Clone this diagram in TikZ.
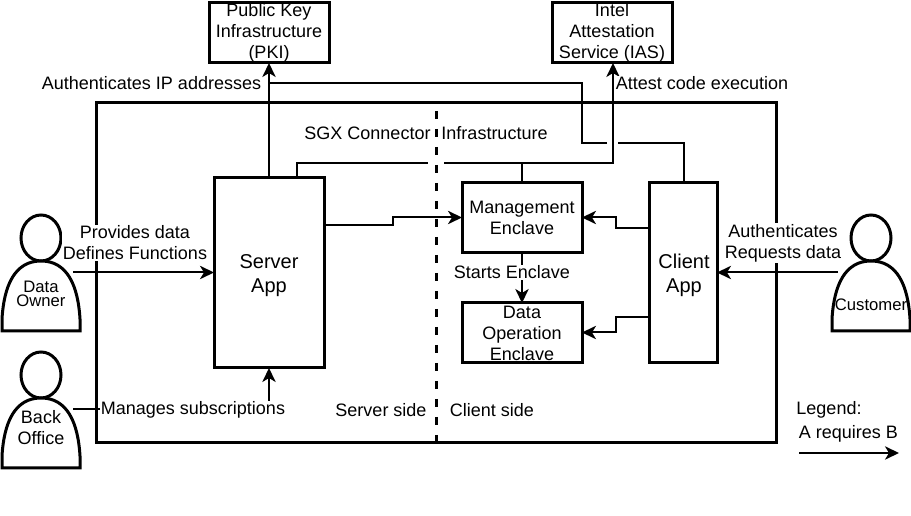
\documentclass[tikz,border=0pt]{standalone}
\usepackage{fontspec}
\setmainfont{Liberation Sans}
\usetikzlibrary{arrows.meta}
\definecolor{ink}{HTML}{000000}
\tikzset{
  x=0.75pt,y=-0.75pt,
  box/.style={draw=ink,line width=2.25pt,fill=white,inner sep=0pt,outer sep=0pt,align=center,anchor=north west,font=\fontsize{13.5}{15.75}\selectfont},
  conn/.style={draw=ink,line width=1.5pt,-{Stealth[length=10.5pt,width=10pt,inset=3pt]}},
  plain/.style={draw=ink,line width=1.5pt},
  lab/.style={fill=white,inner sep=0.5pt,align=center,font=\fontsize{13.5}{15.75}\selectfont},
  txt/.style={inner sep=0pt,align=center,font=\fontsize{13.5}{15.75}\selectfont},
  person/.style={draw=ink,line width=2.25pt,fill=white,line join=miter},
  big/.style={font=\fontsize{15}{18}\selectfont},
}
\newcommand{\boxat}[7][]{\node[box,#1,minimum width=#6*0.75pt-#4*0.75pt,minimum height=#7*0.75pt-#5*0.75pt] (#2) at (#4,#5) {#3};}
\newcommand{\personat}[2]{%
  \draw[person] (#1+39,#2+23) ellipse[x radius=20,y radius=23];
  \draw[person] (#1,#2+116) -- (#1,#2+104) .. controls (#1+2,#2+70) and (#1+13,#2+46) .. (#1+39,#2+46) .. controls (#1+65,#2+46) and (#1+76,#2+70) .. (#1+78,#2+104) -- (#1+78,#2+116) -- cycle;
}
\begin{document}
\begin{tikzpicture}
\useasboundingbox (0,-1) rectangle (911,515);
% frame and divider
\node[draw=ink,line width=2.25pt,outer sep=0pt,minimum width=510pt,minimum height=255pt,inner sep=0pt,anchor=north west] (frame) at (96,102) {};
\coordinate (divtop) at (436,110);
\coordinate (divbot) at (436,442);
\draw[ink,line width=2.25pt,dash pattern=on 6pt off 7.5pt] (divtop) -- (divbot);

% boxes
\boxat{pki}{Public Key\\Infrastructure\\(PKI)}{209}{2}{329}{62}
\boxat{ias}{Intel\\Attestation\\Service (IAS)}{552}{2}{672}{62}
\boxat{mgmt}{Management\\Enclave}{462}{182}{582}{252}
\boxat{dataop}{Data\\Operation\\Enclave}{462}{302}{582}{362}
\boxat{server}{}{214}{177}{324}{367}
\boxat{client}{}{649}{182}{717}{362}
\node[txt,big] (servertext) at (269,275) {Server\\App};
\node[txt,big] (clienttext) at (684,274) {Client\\App};

% actors
\personat{2}{214}
\personat{2}{351}
\personat{832}{214}
\node[txt,font=\fontsize{12.5}{11}\selectfont] (owner) at (41,293) {Data\\Owner};
\node[txt] (office) at (41,427) {Back\\Office};
\node[txt,font=\fontsize{12.5}{14}\selectfont] (customer) at (871,304) {Customer};
\coordinate (ownerout) at (73,271.5);
\coordinate (officeout) at (73,408.5);
\coordinate (custout) at (838,271.5);

% client to PKI, with a gap at the crossing
\coordinate (c1a) at (684,142.5);
\coordinate (c1b) at (618,142.5);
\coordinate (c1c) at (607,142.5);
\coordinate (c1d) at (582,142.5);
\coordinate (c1e) at (582,82.5);
\coordinate (c1f) at (269,82.5);
\draw[plain] (client.north -| c1a) -- (c1a) -- (c1b);
\draw[plain] (c1c) -- (c1d) -- (c1e) -- (c1f);
% server to PKI
\draw[conn] (server.north -| c1f) -- (pki.south -| c1f);
% server / management to IAS
\coordinate (s1) at (297,162.5);
\coordinate (s2) at (428,162.5);
\coordinate (s3) at (444,162.5);
\coordinate (s4) at (613,162.5);
\draw[plain] (server.north -| s1) -- (s1) -- (s2);
\draw[conn] (s3) -- (s4) -- (ias.south -| s4);
\draw[plain] (mgmt.north) -- (mgmt.north |- s3);

% server to management
\coordinate (m1) at (393,224);
\coordinate (m2) at (393,216.5);
\draw[conn] (server.east |- m1) -- (m1) -- (m2) -- (mgmt.west |- m2);
% client to enclaves
\coordinate (n1) at (616,227.5);
\coordinate (n2) at (616,216.5);
\draw[conn] (client.west |- n1) -- (n1) -- (n2) -- (mgmt.east |- n2);
\coordinate (o1) at (616,316.5);
\coordinate (o2) at (616,331.5);
\draw[conn] (client.west |- o1) -- (o1) -- (o2) -- (dataop.east |- o2);
% management to data op
\draw[conn] (mgmt.south) -- (dataop.north);

% external arrows
\draw[conn] (ownerout) -- (server.west |- ownerout);
\draw[conn] (custout) -- (client.east |- custout);
\coordinate (b1) at (269,408.5);
\draw[plain] (officeout) -- (b1);
\draw[conn] (b1) -- (server.south -| b1);

% labels on top
\node[lab] (l1) at (151.5,82.5) {Authenticates IP addresses};
\node[lab] (l2) at (702,82.5) {Attest code execution};
\node[lab] (l3) at (367.5,132) {SGX Connector};
\node[lab] (l4) at (494.5,132) {Infrastructure};
\node[lab] (l5) at (135,242) {Provides data\\Defines Functions};
\node[lab] (l6) at (193,409) {Manages subscriptions};
\node[lab] (l7) at (381,409) {Server side};
\node[lab] (l8) at (492,409) {Client side};
\node[lab] (l9) at (512,271.5) {Starts Enclave};
\node[lab] (l10) at (783,242) {Authenticates\\Requests data};
\node[txt] (l11) at (829,409) {Legend:};
\node[txt] (l12) at (848.5,433) {A requires B};
% legend arrow
\coordinate (la) at (799,452);
\coordinate (lb) at (899,452);
\draw[conn] (la) -- (lb);
\end{tikzpicture}
\end{document}
